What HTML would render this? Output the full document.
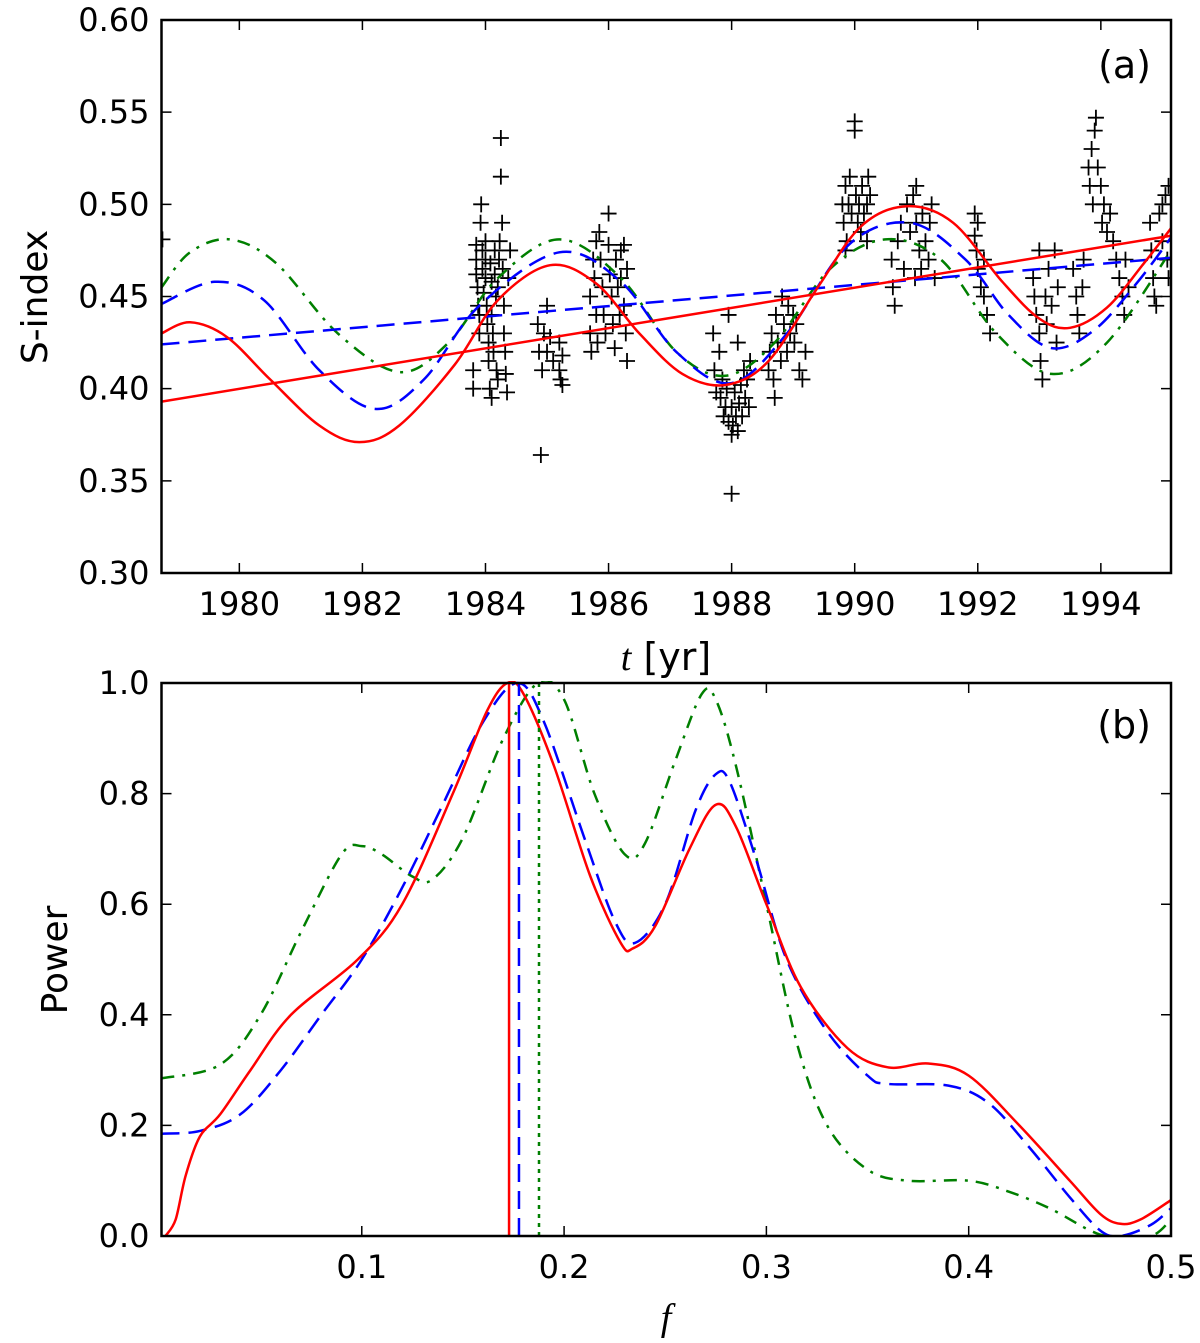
<!DOCTYPE html>
<html><head><meta charset="utf-8">
<style>
html,body{margin:0;padding:0;background:#fff;}
svg{display:block;font-family:"DejaVu Sans","Liberation Sans",sans-serif;}
</style></head>
<body>
<svg id="chart" width="1200" height="1343" viewBox="0 0 1200 1343" xmlns="http://www.w3.org/2000/svg">
<g id="pa"></g>
<g id="pb"></g>
</svg>
<script>
// ---------- Panel (a) data ----------
const aYTicks = [0.30,0.35,0.40,0.45,0.50,0.55,0.60];
const aXTicks = [1980,1982,1984,1986,1988,1990,1992,1994];
const obs = [[1978.75,0.481],
[1983.85,0.478],[1983.85,0.47],[1983.85,0.462],[1983.87,0.455],[1983.88,0.445],[1983.9,0.44],[1983.9,0.43],[1983.92,0.49],[1983.93,0.5],[1983.95,0.475],[1983.95,0.465],[1983.97,0.452],[1984.0,0.46],[1984.0,0.47],[1984.0,0.48],[1984.02,0.445],[1984.03,0.435],[1984.05,0.425],[1984.05,0.415],[1984.07,0.4],[1984.08,0.468],[1984.1,0.458],[1984.1,0.44],[1984.12,0.43],[1984.13,0.42],[1984.15,0.475],[1984.15,0.462],[1984.17,0.45],[1984.18,0.41],[1984.2,0.405],[1984.2,0.455],[1984.22,0.47],[1984.23,0.48],[1984.25,0.536],[1984.25,0.515],[1984.27,0.49],[1984.28,0.465],[1984.3,0.445],[1984.3,0.43],[1984.32,0.42],[1984.33,0.408],[1984.35,0.398],[1984.37,0.46],[1984.4,0.475],[1984.1,0.395],[1983.8,0.41],[1983.8,0.4],
[1984.85,0.435],[1984.87,0.42],[1984.9,0.364],[1984.92,0.41],[1984.95,0.43],[1985.0,0.445],[1985.0,0.42],[1985.05,0.428],[1985.1,0.415],[1985.2,0.425],[1985.2,0.41],[1985.22,0.405],[1985.25,0.402],[1985.25,0.418],
[1985.7,0.45],[1985.7,0.43],[1985.72,0.42],[1985.75,0.47],[1985.77,0.46],[1985.8,0.48],[1985.8,0.44],[1985.82,0.425],[1985.85,0.485],[1985.87,0.47],[1985.9,0.455],[1985.92,0.44],[1985.95,0.43],[1986.0,0.495],[1986.0,0.478],[1986.02,0.462],[1986.05,0.45],[1986.07,0.435],[1986.1,0.422],[1986.12,0.47],[1986.15,0.455],[1986.18,0.44],[1986.2,0.475],[1986.2,0.46],[1986.25,0.478],[1986.25,0.445],[1986.28,0.43],[1986.3,0.465],[1986.3,0.415],
[1987.7,0.43],[1987.72,0.41],[1987.75,0.398],[1987.8,0.42],[1987.82,0.395],[1987.85,0.405],[1987.87,0.385],[1987.9,0.39],[1987.92,0.4],[1987.95,0.382],[1988.0,0.375],[1988.0,0.39],[1988.0,0.343],[1988.02,0.38],[1988.05,0.398],[1988.07,0.385],[1988.1,0.377],[1988.12,0.392],[1988.15,0.402],[1988.17,0.385],[1988.2,0.41],[1988.22,0.395],[1988.25,0.405],[1988.28,0.39],[1988.3,0.415],[1987.95,0.44],[1988.1,0.425],
[1988.6,0.41],[1988.62,0.42],[1988.65,0.43],[1988.68,0.405],[1988.7,0.395],[1988.72,0.44],[1988.75,0.425],[1988.8,0.415],[1988.82,0.45],[1988.85,0.435],[1988.9,0.42],[1988.92,0.445],[1988.95,0.43],[1989.0,0.44],[1989.02,0.425],[1989.05,0.435],[1989.1,0.41],[1989.15,0.405],[1989.2,0.42],
[1989.8,0.5],[1989.82,0.49],[1989.85,0.51],[1989.87,0.48],[1989.9,0.5],[1989.92,0.515],[1989.95,0.495],[1990.0,0.545],[1990.0,0.54],[1990.02,0.505],[1990.05,0.49],[1990.07,0.5],[1990.1,0.485],[1990.12,0.51],[1990.15,0.495],[1990.2,0.5],[1990.2,0.48],[1990.22,0.515],[1990.25,0.505],[1989.85,0.475],
[1990.6,0.47],[1990.62,0.455],[1990.65,0.445],[1990.7,0.48],[1990.75,0.49],[1990.8,0.465],[1990.85,0.5],[1990.9,0.485],[1990.95,0.505],[1991.0,0.51],[1991.0,0.49],[1991.05,0.475],[1991.08,0.465],[1991.1,0.495],[1991.15,0.48],[1991.2,0.47],[1991.22,0.49],[1991.25,0.5],[1991.3,0.46],[1990.98,0.46],
[1991.95,0.495],[1991.95,0.483],[1992.0,0.49],[1992.0,0.465],[1992.05,0.455],[1992.1,0.45],[1992.15,0.44],[1992.2,0.43],[1992.1,0.47],[1991.98,0.475],
[1992.9,0.46],[1992.92,0.45],[1992.95,0.44],[1993.0,0.475],[1993.0,0.43],[1993.02,0.415],[1993.05,0.405],[1993.1,0.45],[1993.12,0.435],[1993.15,0.465],[1993.2,0.445],[1993.25,0.475],[1993.28,0.425],[1993.3,0.455],
[1993.55,0.465],[1993.6,0.45],[1993.62,0.44],[1993.65,0.43],[1993.7,0.455],[1993.72,0.47],
[1993.8,0.52],[1993.82,0.51],[1993.85,0.53],[1993.87,0.5],[1993.9,0.54],[1993.92,0.547],[1993.95,0.52],[1994.0,0.51],[1994.02,0.49],[1994.05,0.5],[1994.1,0.485],[1994.15,0.495],[1994.2,0.48],[1994.25,0.47],
[1994.3,0.46],[1994.35,0.45],[1994.38,0.44],[1994.4,0.47],[1994.45,0.455],
[1994.8,0.49],[1994.82,0.475],[1994.85,0.46],[1994.87,0.45],[1994.9,0.445],[1994.95,0.495],[1995.0,0.5],[1995.0,0.48],[1995.05,0.505],[1995.08,0.47],[1995.1,0.46],[1995.1,0.51]];
const redTrend = [[1978.735,0.393],[1995.14,0.483]];
const blueTrend = [[1978.735,0.424],[1995.14,0.471]];
const redFit = [[1978.735,0.430],[1979.2,0.436],[1979.8,0.428],[1980.5,0.405],[1981.3,0.380],[1981.95,0.371],[1982.6,0.380],[1983.5,0.413],[1984.2,0.448],[1985.05,0.467],[1985.8,0.457],[1986.5,0.430],[1987.2,0.408],[1987.9,0.402],[1988.6,0.415],[1989.4,0.455],[1990.1,0.488],[1990.85,0.499],[1991.6,0.490],[1992.4,0.458],[1993.0,0.438],[1993.5,0.433],[1994.1,0.444],[1994.7,0.468],[1995.14,0.487]];
const blueFit = [[1978.735,0.446],[1979.6,0.458],[1980.4,0.448],[1981.3,0.41],[1982.2,0.389],[1983.0,0.405],[1983.9,0.445],[1985.2,0.474],[1986.2,0.458],[1987.1,0.42],[1988.0,0.403],[1988.9,0.43],[1989.9,0.478],[1990.9,0.490],[1991.8,0.47],[1992.5,0.44],[1993.2,0.422],[1993.9,0.432],[1994.6,0.458],[1995.14,0.482]];
const greenFit = [[1978.735,0.455],[1979.2,0.474],[1979.85,0.481],[1980.6,0.468],[1981.6,0.43],[1982.6,0.409],[1983.4,0.425],[1984.2,0.46],[1985.2,0.481],[1986.2,0.46],[1987.1,0.42],[1987.9,0.407],[1988.7,0.425],[1989.6,0.465],[1990.5,0.481],[1991.4,0.47],[1992.3,0.43],[1993.2,0.408],[1994.1,0.425],[1995.14,0.475]];

// ---------- Panel (b) data ----------
const bYTicks = [0.0,0.2,0.4,0.6,0.8,1.0];
const bXTicks = [0.1,0.2,0.3,0.4,0.5];
const redPow = [[0.003,0.0],[0.008,0.03],[0.013,0.11],[0.02,0.18],[0.03,0.22],[0.045,0.3],[0.065,0.4],[0.098,0.5],[0.12,0.6],[0.145,0.8],[0.162,0.95],[0.172,1.0],[0.18,0.98],[0.195,0.85],[0.213,0.65],[0.228,0.53],[0.234,0.52],[0.245,0.56],[0.262,0.7],[0.275,0.78],[0.285,0.74],[0.3,0.6],[0.317,0.45],[0.34,0.34],[0.36,0.305],[0.38,0.312],[0.4,0.29],[0.425,0.2],[0.45,0.1],[0.465,0.04],[0.475,0.022],[0.485,0.03],[0.5,0.065]];
const bluePow = [[0.001,0.185],[0.02,0.19],[0.04,0.22],[0.06,0.3],[0.08,0.4],[0.1,0.5],[0.12,0.63],[0.14,0.78],[0.16,0.93],[0.177,1.0],[0.19,0.93],[0.21,0.72],[0.225,0.57],[0.235,0.53],[0.25,0.6],[0.265,0.77],[0.275,0.835],[0.282,0.82],[0.295,0.68],[0.31,0.5],[0.33,0.37],[0.35,0.29],[0.36,0.275],[0.39,0.272],[0.41,0.24],[0.43,0.16],[0.45,0.07],[0.465,0.01],[0.475,0.0],[0.49,0.02],[0.5,0.05]];
const greenPow = [[0.001,0.285],[0.03,0.31],[0.05,0.4],[0.07,0.55],[0.09,0.69],[0.1,0.705],[0.11,0.69],[0.125,0.65],[0.135,0.645],[0.15,0.72],[0.17,0.9],[0.187,1.0],[0.2,0.97],[0.215,0.8],[0.23,0.69],[0.24,0.71],[0.255,0.86],[0.268,0.98],[0.275,0.97],[0.285,0.85],[0.3,0.6],[0.315,0.35],[0.33,0.2],[0.35,0.12],[0.37,0.1],[0.4,0.1],[0.42,0.08],[0.44,0.05],[0.46,0.01],[0.47,0.0],[0.49,0.0],[0.5,0.03]];
const peakFreqs = [0.1728,0.1777,0.1876];

// ---------- helpers ----------
const NS='http://www.w3.org/2000/svg';
function mk(parent, tag, attrs){const e=document.createElementNS(NS,tag);for(const k in attrs)e.setAttribute(k,attrs[k]);parent.appendChild(e);return e;}
function smooth(pts){let d='M'+pts[0][0].toFixed(1)+','+pts[0][1].toFixed(1);
 for(let i=0;i<pts.length-1;i++){const p0=pts[i-1]||pts[i],p1=pts[i],p2=pts[i+1],p3=pts[i+2]||p2;
  const c1=[p1[0]+(p2[0]-p0[0])/6,p1[1]+(p2[1]-p0[1])/6],c2=[p2[0]-(p3[0]-p1[0])/6,p2[1]-(p3[1]-p1[1])/6];
  d+='C'+c1[0].toFixed(1)+','+c1[1].toFixed(1)+' '+c2[0].toFixed(1)+','+c2[1].toFixed(1)+' '+p2[0].toFixed(1)+','+p2[1].toFixed(1);}
 return d;}

// ---------- Panel A ----------
const A={l:161.5,r:1171,t:20,b:573,x0:1978.735,x1:1995.14,y0:0.30,y1:0.60};
const ax=t=>A.l+(t-A.x0)/(A.x1-A.x0)*(A.r-A.l);
const ay=v=>A.b-(v-A.y0)/(A.y1-A.y0)*(A.b-A.t);
const pa=document.getElementById('pa');
const clipA=mk(pa,'clipPath',{id:'ca'});mk(clipA,'rect',{x:A.l,y:A.t,width:A.r-A.l,height:A.b-A.t});
const gA=mk(pa,'g',{'clip-path':'url(#ca)'});
const pts=mk(gA,'g',{});


obs.forEach(o=>{const x=ax(o[0]),y=ay(o[1]);
 const c=mk(pts,'path',{d:`M${x-8},${y}H${x+8}M${x},${y-8}V${y+8}`,stroke:'#000','stroke-width':1.8,fill:'none'});
 
 });
function lineA(data,attrs,name){const p=mk(gA,'path',Object.assign({d:smooth(data.map(d=>[ax(d[0]),ay(d[1])])),fill:'none'},attrs));
 
 }
lineA(greenFit,{stroke:'#007f00','stroke-width':2.5,'stroke-dasharray':'13,8,3,8'},'green-fit-curve');
lineA(blueTrend,{stroke:'#0000ff','stroke-width':2.5,'stroke-dasharray':'18,9'},'blue-trend-line');
lineA(blueFit,{stroke:'#0000ff','stroke-width':2.5,'stroke-dasharray':'18,9'},'blue-fit-curve');
lineA(redTrend,{stroke:'#ff0000','stroke-width':2.5},'red-trend-line');
lineA(redFit,{stroke:'#ff0000','stroke-width':2.5},'red-fit-curve');

function axes(parent,B,xt,xf,yt,yf,xlab,ylab,name){
 const g=mk(parent,'g',{});
 
 
 xt.forEach(v=>{const x=xf(v);
  mk(g,'path',{d:`M${x},${B.b}v-10M${x},${B.t}v10`,stroke:'#000','stroke-width':1.5});
  const t=mk(g,'text',{x:x,y:B.b+42,'font-size':32,'text-anchor':'middle'});t.textContent=xlab(v);
  
  });
 yt.forEach(v=>{const y=yf(v);
  mk(g,'path',{d:`M${B.l},${y}h10M${B.r},${y}h-10`,stroke:'#000','stroke-width':1.5});
  const t=mk(g,'text',{x:B.l-12,y:y+11,'font-size':32,'text-anchor':'end'});t.textContent=ylab(v);
  
  });
 mk(g,'rect',{x:B.l,y:B.t,width:B.r-B.l,height:B.b-B.t,fill:'none',stroke:'#000','stroke-width':2.5});
}
axes(pa,A,aXTicks,ax,aYTicks,ay,v=>String(v),v=>v.toFixed(2),'panel-a-axes');

// ---------- Panel B ----------
const Bp={l:161.5,r:1171,t:683,b:1236,x0:0.001,x1:0.5,y0:0,y1:1};
const bx=f=>Bp.l+(f-Bp.x0)/(Bp.x1-Bp.x0)*(Bp.r-Bp.l);
const by=v=>Bp.b-(v-Bp.y0)/(Bp.y1-Bp.y0)*(Bp.b-Bp.t);
const pb=document.getElementById('pb');
const clipB=mk(pb,'clipPath',{id:'cb'});mk(clipB,'rect',{x:Bp.l,y:Bp.t-2,width:Bp.r-Bp.l,height:Bp.b-Bp.t+2});
const gB=mk(pb,'g',{'clip-path':'url(#cb)'});
function lineB(data,attrs,name){const p=mk(gB,'path',Object.assign({d:smooth(data.map(d=>[bx(d[0]),by(d[1])])),fill:'none'},attrs));
 
 }
lineB(greenPow,{stroke:'#007f00','stroke-width':2.5,'stroke-dasharray':'13,8,3,8'},'green-periodogram');
lineB(bluePow,{stroke:'#0000ff','stroke-width':2.5,'stroke-dasharray':'18,9'},'blue-periodogram');
lineB(redPow,{stroke:'#ff0000','stroke-width':2.5},'red-periodogram');
const vstyles=[{stroke:'#ff0000','stroke-width':2.5},{stroke:'#0000ff','stroke-width':2.5,'stroke-dasharray':'18,9'},{stroke:'#007f00','stroke-width':2.5,'stroke-dasharray':'4,5'}];
const vnames=['red-peak-line','blue-peak-line','green-peak-line'];
peakFreqs.forEach((f,i)=>{const x=bx(f);
 const l=mk(gB,'path',Object.assign({d:`M${x},${by(0)}V${by(1)}`},vstyles[i]));
 
 });
axes(pb,Bp,bXTicks,bx,bYTicks,by,v=>v.toFixed(1),v=>v.toFixed(1),'panel-b-axes');

// titles
function txt(attrs,s,name){const t=mk(document.getElementById('chart'),'text',attrs);t.textContent=s;
 
 return t;}
txt({x:1151,y:78,'font-size':38,'text-anchor':'end'},'(a)','panel-a-label');
txt({x:1151,y:738,'font-size':38,'text-anchor':'end'},'(b)','panel-b-label');
txt({x:0,y:0,'font-size':36,'text-anchor':'middle',transform:'translate(47,297) rotate(-90)'},'S-index','y-axis-title-a');
txt({x:0,y:0,'font-size':36,'text-anchor':'middle',transform:'translate(67,960) rotate(-90)'},'Power','y-axis-title-b');
const tl=txt({x:666,y:670,'font-size':38,'text-anchor':'middle'},'','x-axis-title-a');
const ti=mk(tl,'tspan',{'font-family':'Liberation Serif,serif','font-style':'italic'});ti.textContent='t';
const tr=mk(tl,'tspan',{});tr.textContent=' [yr]';
txt({x:666,y:1330,'font-size':38,'text-anchor':'middle','font-family':'Liberation Serif,serif','font-style':'italic'},'f','x-axis-title-b');
</script>
</body></html>
